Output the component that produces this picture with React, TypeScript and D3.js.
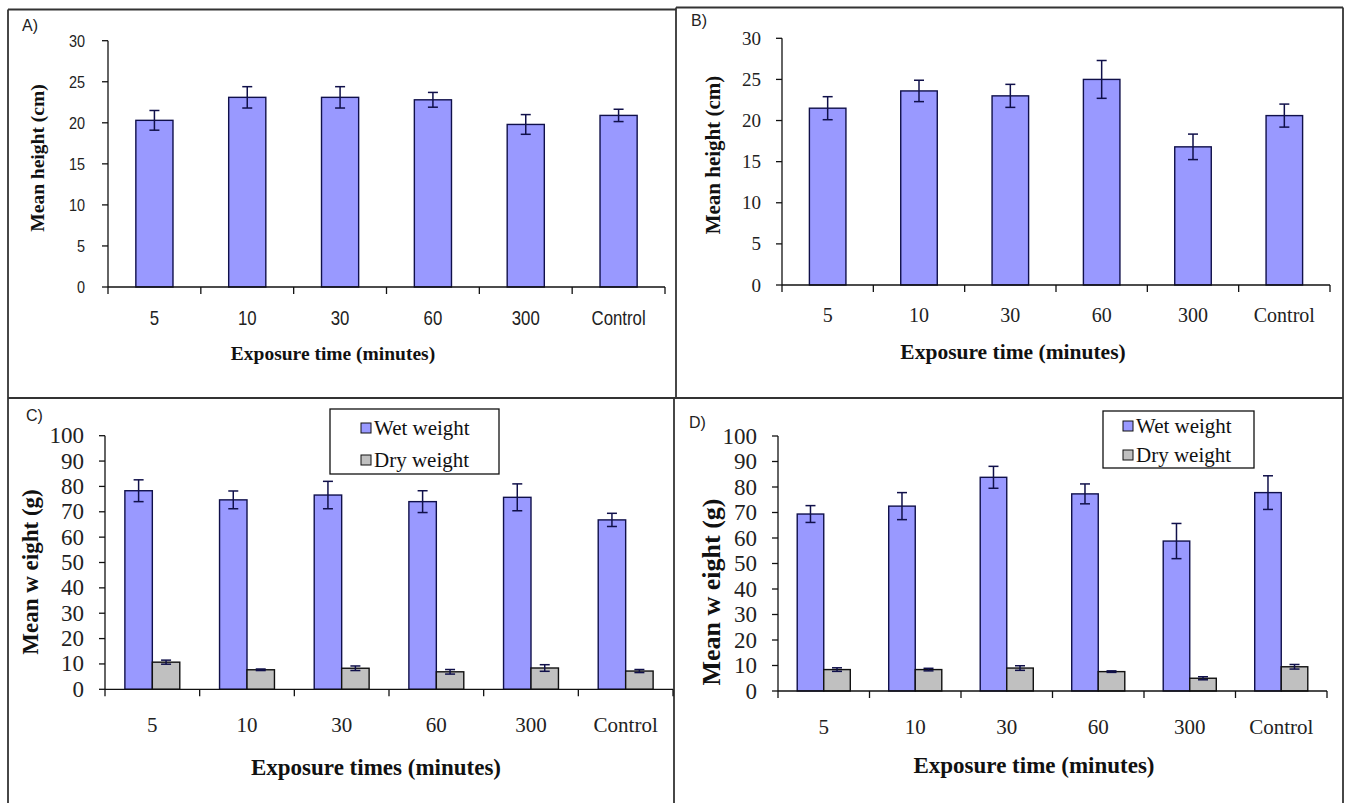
import React from "react";
import * as d3 from "d3";

const categories = ["5", "10", "30", "60", "300", "Control"];

const heightA = [20.3, 23.1, 23.1, 22.8, 19.8, 20.9];
const heightAErr = [1.2, 1.3, 1.3, 0.9, 1.2, 0.75];

const heightB = [21.5, 23.6, 23.0, 25.0, 16.8, 20.6];
const heightBErr = [1.4, 1.3, 1.4, 2.3, 1.55, 1.4];

const wetC = [78.3, 74.7, 76.6, 74.0, 75.7, 66.8];
const wetCErr = [4.3, 3.5, 5.4, 4.3, 5.3, 2.6];
const dryC = [10.7, 7.7, 8.3, 6.9, 8.4, 7.2];
const dryCErr = [0.8, 0.3, 0.9, 0.9, 1.3, 0.6];

const wetD = [69.4, 72.5, 83.8, 77.3, 58.8, 77.8];
const wetDErr = [3.3, 5.3, 4.3, 3.9, 6.9, 6.6];
const dryD = [8.4, 8.4, 9.0, 7.6, 5.0, 9.5];
const dryDErr = [0.7, 0.5, 0.9, 0.3, 0.6, 0.9];

const ticksHeight = [0, 5, 10, 15, 20, 25, 30];
const ticksWeight = [0, 10, 20, 30, 40, 50, 60, 70, 80, 90, 100];

const seriesNames = ["Wet weight", "Dry weight"];

const WET = "#9999ff";
const DRY = "#c0c0c0";
const SERIF = "'Liberation Serif', 'Times New Roman', serif";
const SANS = "'Liberation Sans', Arial, sans-serif";

type Series = { values: number[]; errs: number[]; fill: string };

type Legend = { x: number; y: number; w: number; h: number; rowY: number[]; swX: number; txtX: number; size: number };

type PanelCfg = {
  label: string;
  labelX: number;
  labelY: number;
  x0: number;
  x1: number;
  y0: number;
  yTop: number;
  yMax: number;
  ticks: number[];
  tickFont: string;
  tickSize: number;
  tickScaleX: number;
  tickGap: number;
  catFont: string;
  catSize: number;
  catScaleX: number;
  catY: number;
  title: string;
  titleX: number;
  titleY: number;
  titleSize: number;
  yTitle: string;
  yTitleX: number;
  yTitleY: number;
  yTitleSize: number;
  series: Series[];
  groupFrac: number;
  legend?: Legend;
};

function LegendBox({ l, series }: { l: Legend; series: Series[] }) {
  return (
    <g>
      <rect x={l.x} y={l.y} width={l.w} height={l.h} fill="#fff" stroke="#111" strokeWidth={1.3} />
      {seriesNames.map((n, i) => (
        <g key={n}>
          <rect x={l.swX} y={l.rowY[i] - 5} width={10} height={10} fill={series[i].fill} stroke="#111" strokeWidth={1} />
          <text x={l.txtX} y={l.rowY[i]} dominantBaseline="central" fontFamily={SERIF} fontSize={l.size} fill="#111">
            {n}
          </text>
        </g>
      ))}
    </g>
  );
}

function Panel({ c }: { c: PanelCfg }) {
  const x = d3
    .scaleBand<string>()
    .domain(categories)
    .range([c.x0, c.x1])
    .paddingInner(1 - c.groupFrac)
    .paddingOuter((1 - c.groupFrac) / 2);
  const step = x.step();
  const y = d3.scaleLinear().domain([0, c.yMax]).range([c.y0, c.yTop]);
  const inner = d3
    .scaleBand<number>()
    .domain(c.series.map((_, i) => i))
    .range([0, x.bandwidth()])
    .padding(0);
  const cap = 5;
  return (
    <g>
      <text x={c.labelX} y={c.labelY} fontFamily={SANS} fontSize={16} fill="#222">
        {c.label}
      </text>
      {c.series.map((s, si) =>
        categories.map((cat, i) => {
          const bx = (x(cat) as number) + (inner(si) as number);
          const bw = inner.bandwidth();
          const v = s.values[i];
          const e = s.errs[i];
          const cx = bx + bw / 2;
          return (
            <g key={`${si}-${i}`}>
              <rect
                x={bx}
                y={y(v)}
                width={bw}
                height={c.y0 - y(v)}
                fill={s.fill}
                stroke={si === 0 ? "#10104a" : "#111"}
                strokeWidth={1.4}
              />
              <line x1={cx} x2={cx} y1={y(v + e)} y2={y(v - e)} stroke="#10104a" strokeWidth={1.5} />
              <line x1={cx - cap} x2={cx + cap} y1={y(v + e)} y2={y(v + e)} stroke="#10104a" strokeWidth={1.5} />
              <line x1={cx - cap} x2={cx + cap} y1={y(v - e)} y2={y(v - e)} stroke="#10104a" strokeWidth={1.5} />
            </g>
          );
        })
      )}
      <line x1={c.x0} x2={c.x0} y1={c.y0} y2={c.yTop} stroke="#111" strokeWidth={1.3} />
      {c.ticks.map((t) => (
        <g key={t}>
          <line x1={c.x0 - 6} x2={c.x0} y1={y(t)} y2={y(t)} stroke="#111" strokeWidth={1.3} />
          <text
            transform={`translate(${c.x0 - c.tickGap},${y(t)}) scale(${c.tickScaleX},1)`}
            textAnchor="end"
            dominantBaseline="central"
            fontFamily={c.tickFont}
            fontSize={c.tickSize}
            fill="#222"
          >
            {t}
          </text>
        </g>
      ))}
      <line x1={c.x0} x2={c.x1} y1={c.y0} y2={c.y0} stroke="#111" strokeWidth={1.3} />
      {d3.range(categories.length + 1).map((i) => (
        <line key={i} x1={c.x0 + i * step} x2={c.x0 + i * step} y1={c.y0} y2={c.y0 + 7} stroke="#111" strokeWidth={1.3} />
      ))}
      {categories.map((cat) => (
        <text
          key={cat}
          transform={`translate(${(x(cat) as number) + x.bandwidth() / 2},${c.catY}) scale(${c.catScaleX},1)`}
          textAnchor="middle"
          dominantBaseline="central"
          fontFamily={c.catFont}
          fontSize={c.catSize}
          fill="#222"
        >
          {cat}
        </text>
      ))}
      <text
        x={c.titleX}
        y={c.titleY}
        textAnchor="middle"
        dominantBaseline="central"
        fontFamily={SERIF}
        fontWeight="bold"
        fontSize={c.titleSize}
        fill="#111"
      >
        {c.title}
      </text>
      <text
        transform={`translate(${c.yTitleX},${c.yTitleY}) rotate(-90)`}
        textAnchor="middle"
        dominantBaseline="central"
        fontFamily={SERIF}
        fontWeight="bold"
        fontSize={c.yTitleSize}
        fill="#111"
      >
        {c.yTitle}
      </text>
      {c.legend && <LegendBox l={c.legend} series={c.series} />}
    </g>
  );
}

const panelA: PanelCfg = {
  label: "A)", labelX: 22, labelY: 31,
  x0: 108, x1: 665, y0: 287, yTop: 40.7, yMax: 30, ticks: ticksHeight,
  tickFont: SANS, tickSize: 17, tickScaleX: 0.85, tickGap: 23,
  catFont: SANS, catSize: 20, catScaleX: 0.84, catY: 318,
  title: "Exposure time (minutes)", titleX: 333, titleY: 353, titleSize: 19.5,
  yTitle: "Mean height (cm)", yTitleX: 37, yTitleY: 158, yTitleSize: 19.5,
  series: [{ values: heightA, errs: heightAErr, fill: WET }], groupFrac: 0.4,
};

const panelB: PanelCfg = {
  label: "B)", labelX: 691, labelY: 26,
  x0: 782, x1: 1330, y0: 285, yTop: 38.3, yMax: 30, ticks: ticksHeight,
  tickFont: SERIF, tickSize: 19, tickScaleX: 1, tickGap: 21,
  catFont: SERIF, catSize: 20, catScaleX: 1, catY: 315,
  title: "Exposure time (minutes)", titleX: 1013, titleY: 352, titleSize: 21.5,
  yTitle: "Mean height (cm)", yTitleX: 713, yTitleY: 155, yTitleSize: 21,
  series: [{ values: heightB, errs: heightBErr, fill: WET }], groupFrac: 0.4,
};

const panelC: PanelCfg = {
  label: "C)", labelX: 26, labelY: 421,
  x0: 105, x1: 673, y0: 689.3, yTop: 435.7, yMax: 100, ticks: ticksWeight,
  tickFont: SERIF, tickSize: 23, tickScaleX: 1, tickGap: 21,
  catFont: SERIF, catSize: 21, catScaleX: 1, catY: 725,
  title: "Exposure times (minutes)", titleX: 376, titleY: 767, titleSize: 23,
  yTitle: "Mean w eight (g)", yTitleX: 30, yTitleY: 572, yTitleSize: 23,
  series: [
    { values: wetC, errs: wetCErr, fill: WET },
    { values: dryC, errs: dryCErr, fill: DRY },
  ],
  groupFrac: 0.58,
  legend: { x: 330, y: 409, w: 169, h: 65, rowY: [428, 460], swX: 361, txtX: 374, size: 21 },
};

const panelD: PanelCfg = {
  label: "D)", labelX: 689, labelY: 428,
  x0: 778, x1: 1327, y0: 691, yTop: 436, yMax: 100, ticks: ticksWeight,
  tickFont: SERIF, tickSize: 23, tickScaleX: 1, tickGap: 21,
  catFont: SERIF, catSize: 21, catScaleX: 1, catY: 727,
  title: "Exposure time (minutes)", titleX: 1034, titleY: 765, titleSize: 23,
  yTitle: "Mean w eight (g)", yTitleX: 711, yTitleY: 592, yTitleSize: 26,
  series: [
    { values: wetD, errs: wetDErr, fill: WET },
    { values: dryD, errs: dryDErr, fill: DRY },
  ],
  groupFrac: 0.58,
  legend: { x: 1103, y: 411, w: 151, h: 57, rowY: [426, 455], swX: 1123, txtX: 1136, size: 21 },
};

export default function App() {
  return (
    <svg width={1347} height={803} style={{ position: "absolute", left: 0, top: 0, background: "#fff" }}>
      <rect x={0} y={0} width={1347} height={803} fill="#fff" />
      <g stroke="#333" strokeWidth={1.8} fill="none">
        <line x1={8} x2={676} y1={9.5} y2={9.5} />
        <line x1={676} x2={1343} y1={7.5} y2={7.5} />
        <line x1={8} x2={8} y1={9.5} y2={803} />
        <line x1={676} x2={676} y1={7.5} y2={398} />
        <line x1={674} x2={674} y1={398} y2={803} />
        <line x1={1343} x2={1343} y1={7.5} y2={803} />
        <line x1={8} x2={1343} y1={398} y2={398} />
      </g>
      <Panel c={panelA} />
      <Panel c={panelB} />
      <Panel c={panelC} />
      <Panel c={panelD} />
    </svg>
  );
}
